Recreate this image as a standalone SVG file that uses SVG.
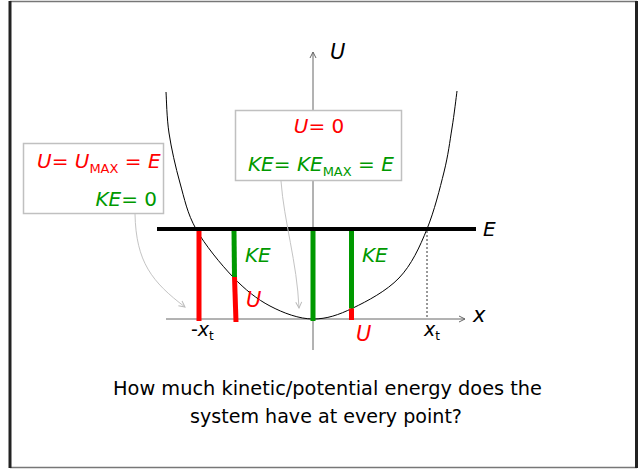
<svg xmlns="http://www.w3.org/2000/svg" width="639" height="469" viewBox="0 0 639 469">
<defs>
<style>
.t{font-family:"DejaVu Sans","Liberation Sans",sans-serif;}
.i{font-style:italic;}
.red{fill:#ff0000;}
.grn{fill:#009900;}
.blk{fill:#000;}
.box{fill:#fff;stroke:#c0c0c0;stroke-width:1.5;}
.axis{stroke:#666;stroke-width:1;fill:none;}
.conn{stroke:#c4c4c4;stroke-width:1;fill:none;marker-end:url(#ca);}
</style>
<marker id="aa" viewBox="0 0 8 8" refX="7" refY="4" markerWidth="8" markerHeight="8" markerUnits="userSpaceOnUse" orient="auto">
<path d="M1,1 L7,4 L1,7" fill="none" stroke="#666" stroke-width="1"/>
</marker>
<marker id="ca" viewBox="0 0 8 8" refX="7" refY="4" markerWidth="8" markerHeight="8" markerUnits="userSpaceOnUse" orient="auto">
<path d="M1,1 L7,4 L1,7" fill="none" stroke="#bbb" stroke-width="1"/>
</marker>
</defs>
<rect width="639" height="469" fill="#fff"/>
<g id="frame">
<line x1="10" y1="1.5" x2="637" y2="1.5" stroke="#777" stroke-width="1.5"/>
<line x1="10" y1="467.5" x2="637" y2="467.5" stroke="#777" stroke-width="1.5"/>
<line x1="10" y1="1" x2="10" y2="468" stroke="#222" stroke-width="3"/>
<line x1="636.5" y1="1" x2="636.5" y2="468" stroke="#222" stroke-width="3"/>
</g>
<g id="axes">
<line class="axis" x1="166" y1="319" x2="465" y2="319" marker-end="url(#aa)"/>
<line class="axis" x1="313" y1="350" x2="313" y2="52" marker-end="url(#aa)"/>
<text class="t i blk" x="330" y="59" font-size="21">U</text>
<text class="t i blk" x="473" y="322" font-size="21">x</text>
<text class="t blk" x="191" y="336" font-size="19">-<tspan class="i">x</tspan><tspan font-size="12" dy="4">t</tspan></text>
<text class="t i blk" x="424" y="336" font-size="19">x<tspan font-size="12" dy="4" font-style="normal">t</tspan></text>
</g>
<g id="potential-curve">
<path d="M166,92 C166.5,98.8 166.7,117.8 169,133 C171.3,148.2 175.5,167 180,183 C184.5,199 187.2,213.3 196,229 C204.8,244.7 220.7,264.2 233,277 C245.3,289.8 256.7,299 270,306 C283.3,313 299.2,319 313,319 C326.8,319 338.5,315 353,308 C367.5,301 386.5,291 399,278 C411.5,265 419.7,247 427,229 C434.3,211 439.8,188.8 444,172 C448.2,155.2 449.8,141.5 452,128 C454.2,114.5 456.2,97.2 457,91" fill="none" stroke="#000" stroke-width="1"/>
</g>
<g id="turning-line">
<line x1="427" y1="231" x2="427" y2="319" stroke="#333" stroke-width="1" stroke-dasharray="2,2"/>
</g>
<g id="bars">
<line x1="199" y1="229" x2="199" y2="321" stroke="#ff0000" stroke-width="5"/>
<line x1="234" y1="231" x2="234.5" y2="277" stroke="#009900" stroke-width="5"/>
<line x1="234.5" y1="277" x2="236" y2="322" stroke="#ff0000" stroke-width="5"/>
<line x1="313" y1="229" x2="313" y2="321" stroke="#009900" stroke-width="5"/>
<line x1="351.5" y1="231" x2="351.5" y2="308.5" stroke="#009900" stroke-width="5"/>
<line x1="351.5" y1="308.5" x2="351.5" y2="320" stroke="#ff0000" stroke-width="5"/>
</g>
<g id="energy-line">
<line x1="157" y1="229" x2="476" y2="229" stroke="#000" stroke-width="4"/>
<text class="t i blk" x="483" y="236" font-size="20">E</text>
</g>
<g id="bar-labels">
<text class="t i grn" x="245" y="262" font-size="20">KE</text>
<text class="t i grn" x="362" y="262" font-size="20">KE</text>
<text class="t i red" x="246" y="307" font-size="21">U</text>
<text class="t i red" x="356" y="341" font-size="21">U</text>
</g>
<g id="box-left">
<rect class="box" x="23.5" y="143.5" width="140" height="70"/>
<text class="t red" x="37" y="168" font-size="20"><tspan class="i">U</tspan>= <tspan class="i">U</tspan><tspan font-size="13" dy="5">MAX</tspan><tspan dy="-5"> = </tspan><tspan class="i">E</tspan></text>
<text class="t grn" x="157" y="206" font-size="20" text-anchor="end"><tspan class="i">KE</tspan>= 0</text>
</g>
<g id="box-center">
<rect class="box" x="235.5" y="110.5" width="166" height="70"/>
<text class="t red" x="319" y="133" font-size="20" text-anchor="middle"><tspan class="i">U</tspan>= 0</text>
<text class="t grn" x="248" y="171" font-size="20"><tspan class="i">KE</tspan>= <tspan class="i">KE</tspan><tspan font-size="13" dy="5">MAX</tspan><tspan dy="-5"> = </tspan><tspan class="i">E</tspan></text>
</g>
<g id="connectors">
<path class="conn" d="M135,214 C136,262 152,282 185,307"/>
<path class="conn" d="M281,181 C284,222 297,262 299,308"/>
</g>
<g id="caption">
<text class="t blk" x="327.5" y="395" font-size="19" text-anchor="middle" textLength="429" lengthAdjust="spacingAndGlyphs">How much kinetic/potential energy does the</text>
<text class="t blk" x="326" y="423" font-size="19" text-anchor="middle" textLength="272" lengthAdjust="spacingAndGlyphs">system have at every point?</text>
</g>
</svg>
